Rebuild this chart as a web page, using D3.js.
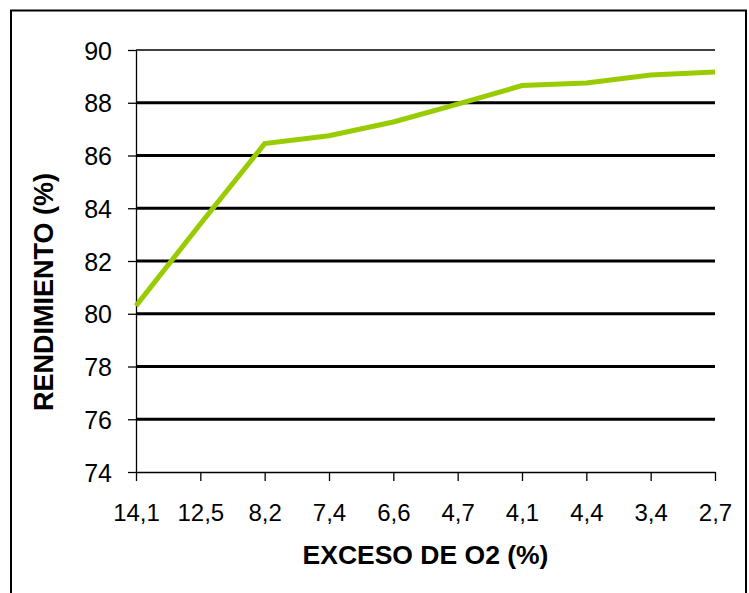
<!DOCTYPE html>
<html>
<head>
<meta charset="utf-8">
<script src="https://cdn.jsdelivr.net/npm/d3@7"></script>
<style>
  html, body { margin: 0; padding: 0; background: #fff; }
  svg { display: block; }
  text { font-family: Arial, "Liberation Sans", sans-serif; fill: #000; }
</style>
</head>
<body>
<svg id="chart" width="749" height="593"></svg>
<script>
// Excess oxygen (x categories, in display order) and boiler efficiency
const excessO2 = ["14,1", "12,5", "8,2", "7,4", "6,6", "4,7", "4,1", "4,4", "3,4", "2,7"];
const rendimiento = [80.3, 83.4, 86.45, 86.75, 87.27, 87.95, 88.65, 88.75, 89.05, 89.17];
const yTicks = [74, 76, 78, 80, 82, 84, 86, 88, 90];
const xTitle = "EXCESO DE O2 (%)";
const yTitle = "RENDIMIENTO (%)";

const svg = d3.select("#chart");
const plot = { left: 136, right: 715, top: 50, bottom: 472 };

// outer chart frame
svg.append("rect")
  .attr("x", 11).attr("y", 10.5)
  .attr("width", 735).attr("height", 600)
  .attr("fill", "none").attr("stroke", "#000").attr("stroke-width", 2);

const x = d3.scalePoint().domain(excessO2).range([plot.left, plot.right]).padding(0);
const y = d3.scaleLinear().domain([74, 90]).range([plot.bottom, plot.top]);

// horizontal gridlines
svg.append("g").selectAll("line")
  .data(yTicks.filter(v => v > 74))
  .join("line")
  .attr("x1", plot.left).attr("x2", plot.right)
  .attr("y1", d => y(d)).attr("y2", d => y(d))
  .attr("stroke", "#000")
  .attr("stroke-width", d => d === 90 ? 1.3 : 2.8);

// y axis
const yAxis = svg.append("g")
  .attr("transform", `translate(${plot.left},0)`)
  .call(d3.axisLeft(y).tickValues(yTicks).tickSize(8).tickPadding(16).tickSizeOuter(0))
  .attr("font-family", "Arial, 'Liberation Sans', sans-serif")
  .attr("font-size", 25);
yAxis.select(".domain").attr("stroke-width", 1.3);
yAxis.selectAll(".tick line").attr("stroke-width", 1.3);
yAxis.selectAll(".tick text").attr("dy", "0.36em");

// x axis
const xAxis = svg.append("g")
  .attr("transform", `translate(0,${plot.bottom})`)
  .call(d3.axisBottom(x).tickSize(9).tickPadding(23).tickSizeOuter(0))
  .attr("font-family", "Arial, 'Liberation Sans', sans-serif")
  .attr("font-size", 24);
xAxis.select(".domain").attr("stroke-width", 1.3);
xAxis.selectAll(".tick line").attr("stroke-width", 1.3);

// efficiency line
const line = d3.line()
  .x((d, i) => x(excessO2[i]))
  .y(d => y(d));
svg.append("path")
  .datum(rendimiento)
  .attr("d", line)
  .attr("fill", "none")
  .attr("stroke", "#99CC00")
  .attr("stroke-width", 5)
  .attr("stroke-linejoin", "miter");

// axis titles
svg.append("text")
  .attr("x", (plot.left + plot.right) / 2)
  .attr("y", 564)
  .attr("text-anchor", "middle")
  .attr("font-size", 26.5)
  .attr("font-weight", "bold")
  .text(xTitle);

svg.append("text")
  .attr("transform", `translate(53,292) rotate(-90)`)
  .attr("text-anchor", "middle")
  .attr("font-size", 27)
  .attr("font-weight", "bold")
  .text(yTitle);
</script>
</body>
</html>
